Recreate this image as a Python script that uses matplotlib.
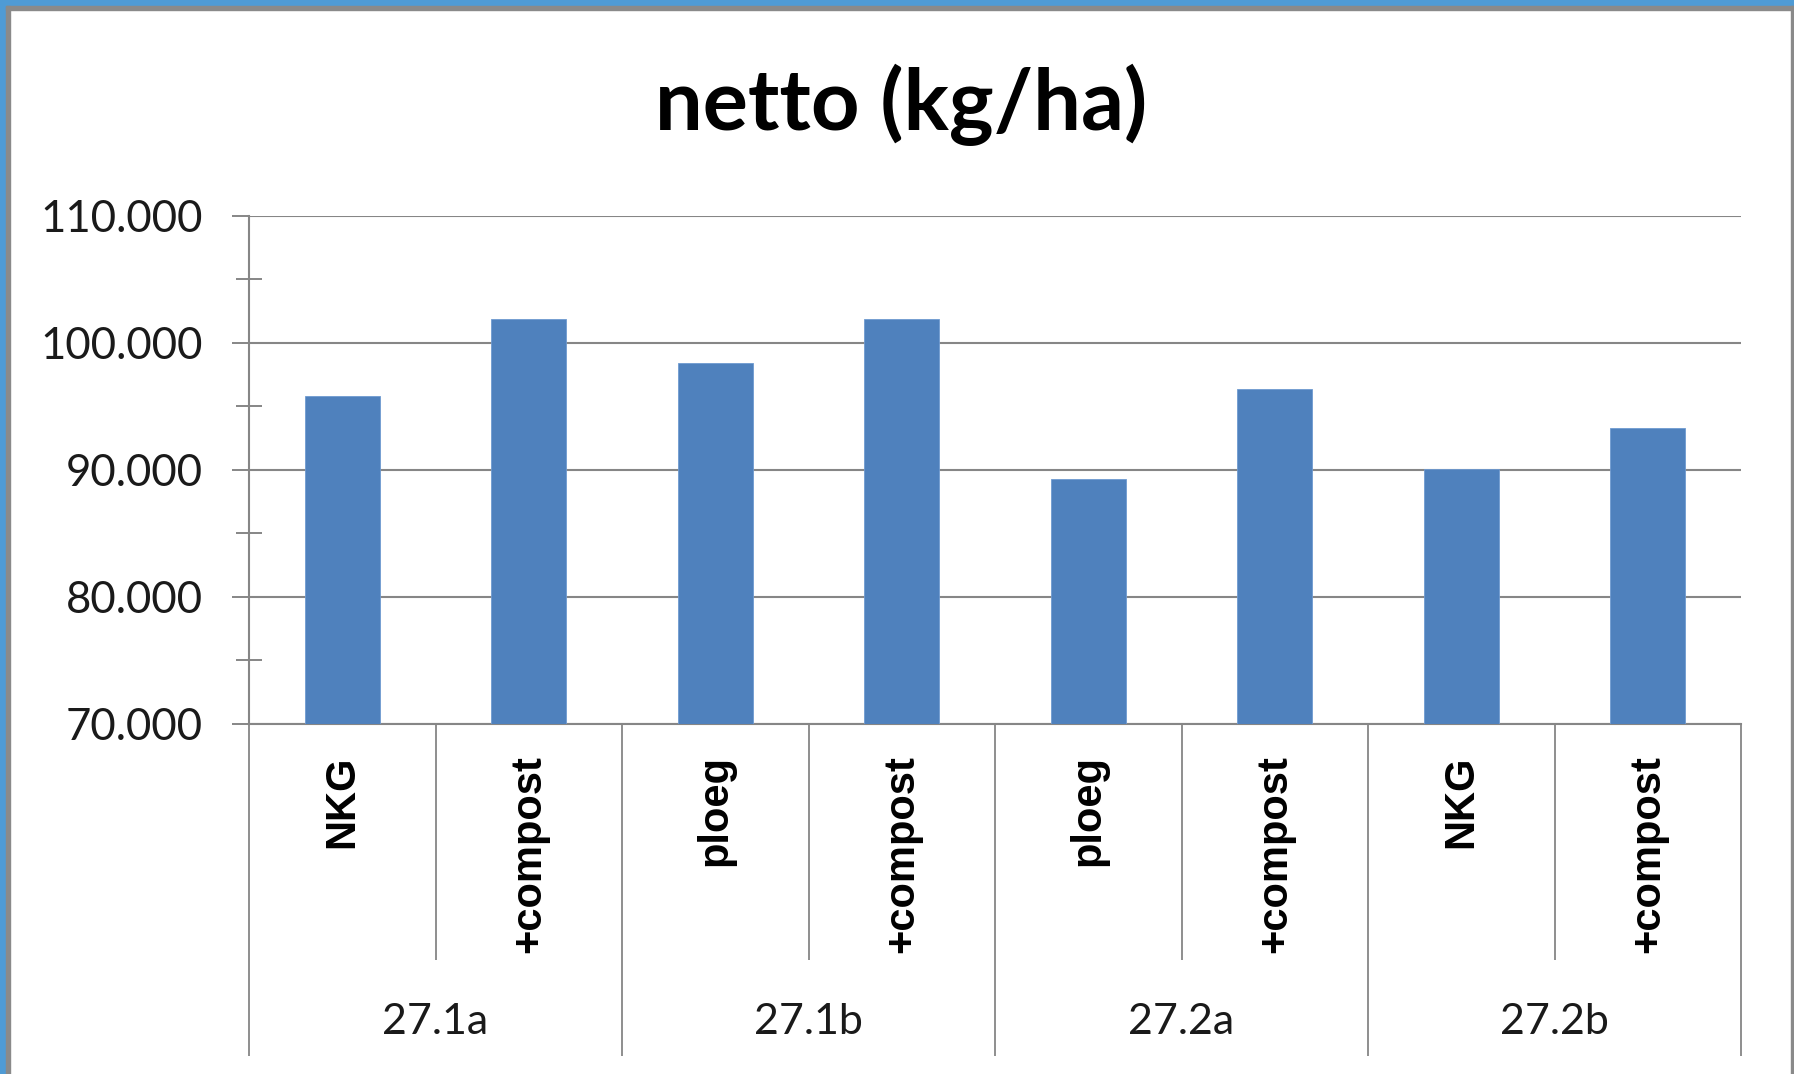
import matplotlib
matplotlib.use("Agg")
import matplotlib.pyplot as plt
import matplotlib.transforms as mtransforms
from matplotlib.patches import Rectangle
from matplotlib.ticker import MultipleLocator, FuncFormatter

# Net yield per plot and treatment
groups = ["27.1a", "27.1b", "27.2a", "27.2b"]
treatments = ["NKG", "+compost", "ploeg", "+compost",
              "ploeg", "+compost", "NKG", "+compost"]
netto = [95800, 101900, 98400, 101900, 89300, 96400, 90100, 93300]

title = "netto (kg/ha)"
y_min, y_max = 70000, 110000

W, H = 1794, 1074
fig = plt.figure(figsize=(W / 100, H / 100), dpi=100)
fig.patch.set_facecolor("white")

# Axes placement in pixels
left_px, right_px, top_px, bottom_px = 249, 1741, 216, 724
ax = fig.add_axes([left_px / W, 1 - bottom_px / H,
                   (right_px - left_px) / W, (bottom_px - top_px) / H])

bar_color = "#4F81BD"
grid_color = "#868686"

x = list(range(len(netto)))
ax.bar(x, netto, width=0.4, color=bar_color, edgecolor="#6F9AD0",
       linewidth=0.6, zorder=3)

ax.set_xlim(-0.5, len(netto) - 0.5)
ax.set_ylim(y_min, y_max)

# y axis: major gridlines, minor cross ticks
ax.yaxis.set_major_locator(MultipleLocator(10000))
ax.yaxis.set_minor_locator(MultipleLocator(5000))
ax.yaxis.set_major_formatter(FuncFormatter(
    lambda v, p: f"{int(v):,}".replace(",", ".")))
ax.tick_params(axis="y", which="major", direction="out", length=12,
               width=1.4, color=grid_color, pad=21, labelsize=31.5,
               labelcolor="#1a1a1a")
ax.tick_params(axis="y", which="minor", direction="inout", length=19,
               width=1.4, color=grid_color)
for lab in ax.get_yticklabels():
    lab.set_fontfamily("Lato")
ax.grid(axis="y", which="major", color=grid_color, linewidth=1.5, zorder=1)
ax.set_axisbelow(True)

ax.set_xticks([])
for side in ("top", "right"):
    ax.spines[side].set_visible(False)
for side in ("left", "bottom"):
    ax.spines[side].set_color(grid_color)
    ax.spines[side].set_linewidth(1.5)

# Two-level category axis
trans = mtransforms.blended_transform_factory(ax.transData, fig.transFigure)
inner_end = 1 - 960 / H
outer_end = 1 - 1056 / H
axis_y = 1 - bottom_px / H
for b in [i - 0.5 for i in range(len(netto) + 1)]:
    end = outer_end if (b + 0.5) % 2 == 0 else inner_end
    ax.plot([b, b], [axis_y, end], transform=trans, color=grid_color,
            linewidth=1.3, clip_on=False, solid_capstyle="butt")

for i, t in enumerate(treatments):
    ax.text(i, 1 - 755 / H, t, transform=trans, rotation=90,
            ha="center", va="top", fontsize=30, fontweight="bold",
            fontfamily="Liberation Sans", color="black")

for g_i, g in enumerate(groups):
    ax.text(2 * g_i + 0.5, 1 - 1022 / H, g, transform=trans, ha="center",
            va="center", fontsize=31, fontfamily="Lato", color="#1a1a1a")

fig.text(901 / W, 1 - 130 / H, title, ha="center", va="baseline",
         fontsize=61, fontweight="bold", fontfamily="Lato", color="black")

# Outer frame: blue band on top and left, thin gray edge
fig.add_artist(Rectangle((0, 1 - 6 / H), 1, 6 / H, transform=fig.transFigure,
                         color="#4F9BD5", zorder=10))
fig.add_artist(Rectangle((0, 0), 6 / W, 1, transform=fig.transFigure,
                         color="#4F9BD5", zorder=10))
fig.add_artist(Rectangle((6 / W, 0), 4 / W, 1 - 6 / H, transform=fig.transFigure,
                         color="#8A8A8A", zorder=10))
fig.add_artist(Rectangle((6 / W, 1 - 10 / H), 1 - 6 / W, 4 / H,
                         transform=fig.transFigure, color="#8A8A8A", zorder=10))
fig.add_artist(Rectangle((1 - 3 / W, 0), 3 / W, 1 - 6 / H,
                         transform=fig.transFigure, color="#8A8A8A", zorder=10))

fig.savefig("out.png", dpi=100, facecolor="white")
